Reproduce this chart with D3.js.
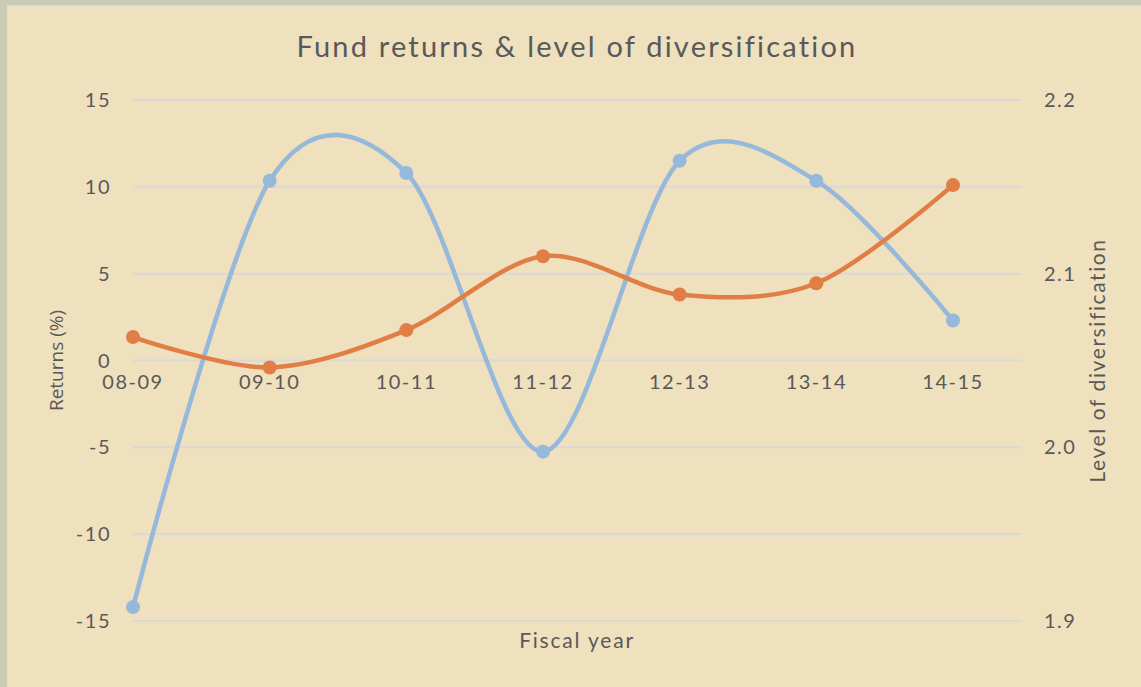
<!DOCTYPE html>
<html>
<head>
<meta charset="utf-8">
<script src="https://cdn.jsdelivr.net/npm/d3@7"></script>
<style>
  html, body { margin: 0; padding: 0; background: #c9cbb2; }
  svg { display: block; }
  .tick-label { font-family: Lato, "Open Sans", sans-serif; font-size: 20px; letter-spacing: 1.5px; fill: #595959; }
</style>
</head>
<body>
<svg id="chart" width="1141" height="687"></svg>
<script>
// data
const years = ['08-09', '09-10', '10-11', '11-12', '12-13', '13-14', '14-15'];
const returns = [-14.2, 10.35, 10.8, -5.25, 11.5, 10.35, 2.3];
const diversification = [2.0635, 2.046, 2.0675, 2.110, 2.088, 2.0945, 2.151];
const leftTicks = [-15, -10, -5, 0, 5, 10, 15];
const rightTicks = [1.9, 2.0, 2.1, 2.2];

const svg = d3.select('#chart');
const W = 1141, H = 687;

// frame: grey-green border top/left, beige panel
svg.append('rect').attr('x', 0).attr('y', 0).attr('width', W).attr('height', H).attr('fill', '#c9cbb2');
svg.append('rect').attr('x', 7).attr('y', 5).attr('width', W).attr('height', H).attr('fill', '#dcdcd0');
svg.append('rect').attr('x', 8).attr('y', 7).attr('width', W).attr('height', H).attr('fill', '#efe0be');

const plot = { left: 133, right: 1022, top: 100, bottom: 621 };

const x = d3.scalePoint()
    .domain(years)
    .range([plot.left, 953]);

const yL = d3.scaleLinear()
    .domain([-15, 15])
    .range([plot.bottom, plot.top]);

const yR = d3.scaleLinear()
    .domain([1.9, 2.2])
    .range([plot.bottom, plot.top]);

// gridlines
svg.append('g').selectAll('line')
    .data(leftTicks)
    .join('line')
    .attr('x1', plot.left).attr('x2', plot.right)
    .attr('y1', d => yL(d)).attr('y2', d => yL(d))
    .attr('stroke', '#d9d9d9')
    .attr('stroke-width', 2);

// left tick labels
svg.append('g').selectAll('text')
    .data(leftTicks)
    .join('text')
    .attr('class', 'tick-label')
    .attr('x', 111)
    .attr('y', d => yL(d))
    .attr('dy', '0.35em')
    .attr('text-anchor', 'end')
    .text(d => d);

// right tick labels
svg.append('g').selectAll('text')
    .data(rightTicks)
    .join('text')
    .attr('class', 'tick-label')
    .attr('x', 1044)
    .attr('y', d => yR(d))
    .attr('dy', '0.35em')
    .attr('text-anchor', 'start')
    .text(d => d3.format('.1f')(d));

// category labels sit under the zero line
svg.append('g').selectAll('text')
    .data(years)
    .join('text')
    .attr('class', 'tick-label')
    .attr('x', d => x(d))
    .attr('y', yL(0) + 28)
    .attr('text-anchor', 'middle')
    .text(d => d);

// title + axis titles
svg.append('text')
    .attr('x', 577).attr('y', 57)
    .attr('text-anchor', 'middle')
    .style('font-family', 'Lato, sans-serif')
    .style('font-size', '29px')
    .style('letter-spacing', '2.2px')
    .style('fill', '#595959')
    .text('Fund returns & level of diversification');

svg.append('text')
    .attr('transform', `translate(63, ${yL(0)}) rotate(-90)`)
    .attr('text-anchor', 'middle')
    .style('font-family', '"Open Sans", sans-serif')
    .style('font-size', '19px')
    .style('fill', '#595959')
    .text('Returns (%)');

svg.append('text')
    .attr('transform', `translate(1105, ${yL(0)}) rotate(-90)`)
    .attr('text-anchor', 'middle')
    .style('font-family', 'Lato, sans-serif')
    .style('font-size', '21px')
    .style('letter-spacing', '1.6px')
    .style('fill', '#595959')
    .text('Level of diversification');

svg.append('text')
    .attr('x', 577).attr('y', 648)
    .attr('text-anchor', 'middle')
    .style('font-family', 'Lato, sans-serif')
    .style('font-size', '21px')
    .style('letter-spacing', '1.8px')
    .style('fill', '#595959')
    .text('Fiscal year');

// series
const series = [
    { values: returns, y: yL, color: '#95b8db' },
    { values: diversification, y: yR, color: '#e07e45' }
];

series.forEach(s => {
    const line = d3.line()
        .x((d, i) => x(years[i]))
        .y(d => s.y(d))
        .curve(d3.curveCardinal.tension(0.05));

    svg.append('path')
        .datum(s.values)
        .attr('fill', 'none')
        .attr('stroke', s.color)
        .attr('stroke-width', 4.5)
        .attr('stroke-linecap', 'round')
        .attr('d', line);

    svg.append('g').selectAll('circle')
        .data(s.values)
        .join('circle')
        .attr('cx', (d, i) => x(years[i]))
        .attr('cy', d => s.y(d))
        .attr('r', 7)
        .attr('fill', s.color);
});
</script>
</body>
</html>
